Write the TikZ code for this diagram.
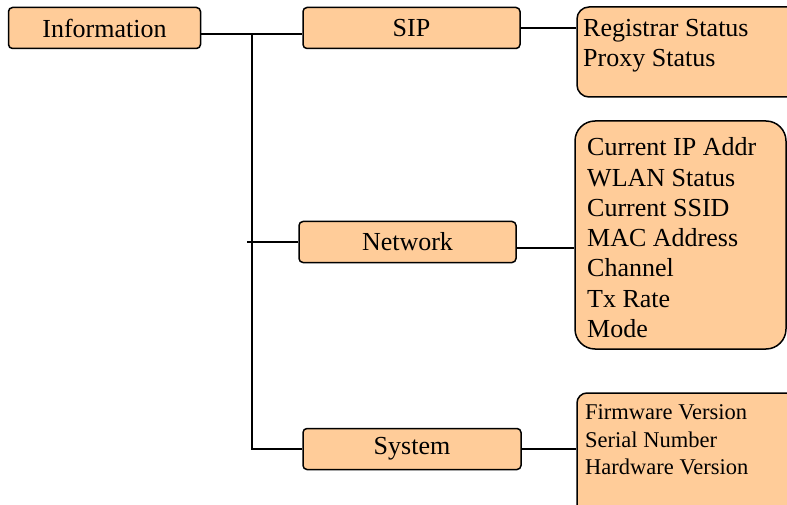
\documentclass[tikz,border=0pt]{standalone}
\usepackage{fontspec}
\setmainfont{Liberation Serif}
\definecolor{boxfill}{RGB}{255,204,153}
\tikzset{
  menubox/.style={draw=black, line width=1.5pt, fill=boxfill, rounded corners=4pt,
    inner sep=0pt, font=\fontsize{26}{30}\selectfont},
  detailbox/.style={draw=black, line width=1.5pt, fill=boxfill, inner sep=0pt},
  detailtext/.style={anchor=base west, inner sep=0pt},
  link/.style={draw=black, line width=1.5pt}
}
\begin{document}
\begin{tikzpicture}[x=1pt,y=-1pt]
\useasboundingbox (0,0) rectangle (787,505);
% menu boxes
\node[menubox, minimum width=192pt, minimum height=41pt] (info) at (104.5,28) {Information};
\node[menubox, minimum width=217pt, minimum height=41pt] (sip) at (411.5,28) {SIP};
\node[menubox, minimum width=217pt, minimum height=41pt] (net) at (407.5,242) {Network};
\node[menubox, minimum width=218pt, minimum height=41pt] (sys) at (412,449) {System};
% detail boxes
\node[detailbox, rounded corners=12pt, minimum width=240pt, minimum height=90pt] (sipd) at (697,52) {};
\node[detailbox, rounded corners=20pt, minimum width=211pt, minimum height=228pt] (netd) at (680.5,235) {};
\node[detailbox, rounded corners=10pt, minimum width=240pt, minimum height=130pt] (sysd) at (697,458) {};
% detail texts
\begin{scope}[font=\fontsize{26}{30}\selectfont]
\node[detailtext] (sip1) at (583,37) {Registrar Status};
\node[detailtext] (sip2) at (583,67) {Proxy Status};
\node[detailtext] (net1) at (587,156) {Current IP Addr};
\node[detailtext] (net2) at (587,186.2) {WLAN Status};
\node[detailtext] (net3) at (587,216.4) {Current SSID};
\node[detailtext] (net4) at (587,246.6) {MAC Address};
\node[detailtext] (net5) at (587,276.8) {Channel};
\node[detailtext] (net6) at (587,307) {Tx Rate};
\node[detailtext] (net7) at (587,337) {Mode};
\end{scope}
\begin{scope}[font=\fontsize{22.5}{26}\selectfont]
\node[detailtext] (sys1) at (585,419.5) {Firmware Version};
\node[detailtext] (sys2) at (585,447) {Serial Number};
\node[detailtext] (sys3) at (585,474.5) {Hardware Version};
\end{scope}
% connectors
\coordinate (trunktop) at (252,34);
\coordinate (trunkbot) at (252,450);
\coordinate (netstub) at (247,242);
\coordinate (infoout) at ([yshift=-6pt]info.east);
\coordinate (netout) at ([yshift=-6pt]net.east);
\draw[link] (infoout) -- (sip.west |- infoout);
\draw[link] (trunktop) -- (trunkbot);
\draw[link] (netstub) -- (net.west);
\draw[link] (trunkbot |- sys.west) -- (sys.west);
\draw[link] (sip.east) -- (sipd.west |- sip.east);
\draw[link] (netout) -- (netd.west |- netout);
\draw[link] (sys.east) -- (sysd.west |- sys.east);
\end{tikzpicture}
\end{document}
